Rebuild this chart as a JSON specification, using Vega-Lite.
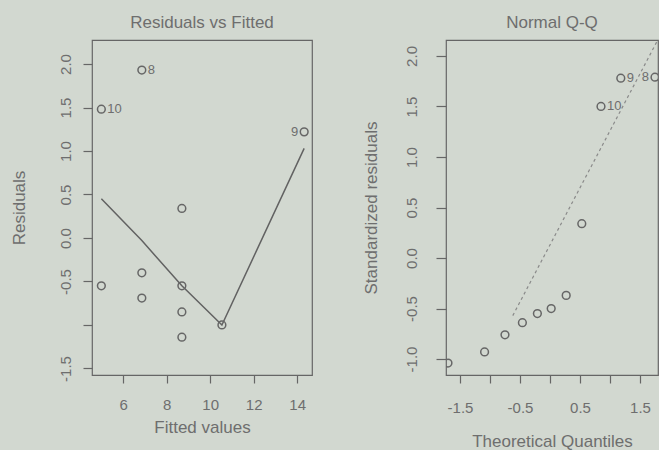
{
  "$schema": "https://vega.github.io/schema/vega-lite/v6.json",
  "background": "#d2d8d0",
  "padding": {"left": 9, "top": 13, "right": 0, "bottom": 0},
  "datasets": {
    "resid": [
      {"fitted": 5.0, "residual": -0.55, "id": ""},
      {"fitted": 5.0, "residual": 1.48, "id": "10"},
      {"fitted": 6.86, "residual": 1.93, "id": "8"},
      {"fitted": 6.86, "residual": -0.40, "id": ""},
      {"fitted": 6.86, "residual": -0.69, "id": ""},
      {"fitted": 8.7, "residual": 0.34, "id": ""},
      {"fitted": 8.7, "residual": -0.55, "id": ""},
      {"fitted": 8.7, "residual": -0.85, "id": ""},
      {"fitted": 8.7, "residual": -1.14, "id": ""},
      {"fitted": 10.54, "residual": -1.0, "id": ""},
      {"fitted": 14.32, "residual": 1.22, "id": "9"}
    ],
    "smooth": [
      {"fitted": 5.0, "value": 0.45},
      {"fitted": 6.86, "value": -0.03},
      {"fitted": 8.7, "value": -0.55},
      {"fitted": 10.54, "value": -1.0},
      {"fitted": 14.32, "value": 1.03}
    ],
    "qq": [
      {"theoretical": -1.70, "std": -1.04, "id": ""},
      {"theoretical": -1.09, "std": -0.93, "id": ""},
      {"theoretical": -0.75, "std": -0.76, "id": ""},
      {"theoretical": -0.46, "std": -0.64, "id": ""},
      {"theoretical": -0.21, "std": -0.55, "id": ""},
      {"theoretical": 0.02, "std": -0.50, "id": ""},
      {"theoretical": 0.27, "std": -0.37, "id": ""},
      {"theoretical": 0.53, "std": 0.34, "id": ""},
      {"theoretical": 0.85, "std": 1.50, "id": "10"},
      {"theoretical": 1.18, "std": 1.78, "id": "9"},
      {"theoretical": 1.75, "std": 1.79, "id": "8"}
    ],
    "qqline": [
      {"theoretical": -0.62, "std": -0.57},
      {"theoretical": 1.78, "std": 2.14}
    ]
  },
  "config": {
    "font": "Liberation Sans",
    "view": {"stroke": "#666666", "strokeWidth": 1.2},
    "axis": {
      "domain": false,
      "grid": false,
      "tickColor": "#666666",
      "tickWidth": 1.2,
      "labelColor": "#6e6e6e",
      "titleColor": "#6e6e6e",
      "labelFont": "Liberation Sans",
      "titleFont": "Liberation Sans",
      "labelFontSize": 15,
      "titleFontSize": 17,
      "titleFontWeight": "normal"
    },
    "title": {"font": "Liberation Sans", "fontSize": 17, "fontWeight": "normal", "color": "#6e6e6e", "offset": 8}
  },
  "bounds": "flush",
  "spacing": 134,
  "hconcat": [
    {
      "width": 220,
      "height": 335,
      "title": "Residuals vs Fitted",
      "layer": [
        {
          "data": {"name": "smooth"},
          "mark": {"type": "line", "color": "#626262", "strokeWidth": 1.5},
          "encoding": {
            "x": {"field": "fitted", "type": "quantitative"},
            "y": {"field": "value", "type": "quantitative"}
          }
        },
        {
          "data": {"name": "resid"},
          "mark": {"type": "point", "shape": "circle", "filled": false, "color": "#666666", "strokeWidth": 1.5, "size": 60, "opacity": 1},
          "encoding": {
            "x": {"field": "fitted", "type": "quantitative"},
            "y": {"field": "residual", "type": "quantitative"}
          }
        },
        {
          "data": {"name": "resid"},
          "transform": [{"filter": "datum.id != '' && datum.fitted < 10"}],
          "mark": {"type": "text", "fontSize": 13, "color": "#6e6e6e", "baseline": "middle", "align": "left", "dx": 6},
          "encoding": {
            "x": {"field": "fitted", "type": "quantitative"},
            "y": {"field": "residual", "type": "quantitative"},
            "text": {"field": "id"}
          }
        },
        {
          "data": {"name": "resid"},
          "transform": [{"filter": "datum.id != '' && datum.fitted > 10"}],
          "mark": {"type": "text", "fontSize": 13, "color": "#6e6e6e", "baseline": "middle", "align": "right", "dx": -6},
          "encoding": {
            "x": {"field": "fitted", "type": "quantitative"},
            "y": {"field": "residual", "type": "quantitative"},
            "text": {"field": "id"}
          }
        }
      ],
      "encoding": {
        "x": {
          "field": "fitted", "type": "quantitative",
          "scale": {"domain": [4.57, 14.68], "nice": false, "zero": false},
          "axis": {"title": "Fitted values", "values": [6, 8, 10, 12, 14], "tickSize": 8, "labelPadding": 14, "titlePadding": 7, "format": "d"}
        },
        "y": {
          "field": "residual", "type": "quantitative",
          "scale": {"domain": [-1.575, 2.276], "nice": false, "zero": false},
          "axis": {"title": "Residuals", "values": [-1.5, -1, -0.5, 0, 0.5, 1, 1.5, 2], "labelExpr": "datum.value == -1 ? '' : replace(format(datum.value, '.1f'), '\u2212', '-')", "labelAngle": 270, "labelAlign": "center", "labelBaseline": "middle", "tickSize": 9, "labelPadding": 18, "titlePadding": 30}
        }
      }
    },
    {
      "width": 212,
      "height": 335,
      "title": "Normal Q-Q",
      "layer": [
        {
          "data": {"name": "qqline"},
          "mark": {"type": "line", "color": "#8a8a8a", "strokeWidth": 1.2, "strokeDash": [3, 3], "clip": true},
          "encoding": {
            "x": {"field": "theoretical", "type": "quantitative"},
            "y": {"field": "std", "type": "quantitative"}
          }
        },
        {
          "data": {"name": "qq"},
          "mark": {"type": "point", "shape": "circle", "filled": false, "color": "#666666", "strokeWidth": 1.5, "size": 60, "opacity": 1, "clip": true},
          "encoding": {
            "x": {"field": "theoretical", "type": "quantitative"},
            "y": {"field": "std", "type": "quantitative"}
          }
        },
        {
          "data": {"name": "qq"},
          "transform": [{"filter": "datum.id != '' && datum.theoretical < 1.5"}],
          "mark": {"type": "text", "fontSize": 13, "color": "#6e6e6e", "baseline": "middle", "align": "left", "dx": 6},
          "encoding": {
            "x": {"field": "theoretical", "type": "quantitative"},
            "y": {"field": "std", "type": "quantitative"},
            "text": {"field": "id"}
          }
        },
        {
          "data": {"name": "qq"},
          "transform": [{"filter": "datum.id != '' && datum.theoretical > 1.5"}],
          "mark": {"type": "text", "fontSize": 13, "color": "#6e6e6e", "baseline": "middle", "align": "right", "dx": -6},
          "encoding": {
            "x": {"field": "theoretical", "type": "quantitative"},
            "y": {"field": "std", "type": "quantitative"},
            "text": {"field": "id"}
          }
        }
      ],
      "encoding": {
        "x": {
          "field": "theoretical", "type": "quantitative",
          "scale": {"domain": [-1.733, 1.8], "nice": false, "zero": false},
          "axis": {"title": "Theoretical Quantiles", "values": [-1.5, -1, -0.5, 0, 0.5, 1, 1.5], "labelExpr": "(datum.value == -1 || datum.value == 0 || datum.value == 1) ? '' : replace(format(datum.value, '.1f'), '\u2212', '-')", "tickSize": 8, "labelPadding": 17, "titlePadding": 18}
        },
        "y": {
          "field": "std", "type": "quantitative",
          "scale": {"domain": [-1.158, 2.158], "nice": false, "zero": false},
          "axis": {"title": "Standardized residuals", "values": [-1, -0.5, 0, 0.5, 1, 1.5, 2], "labelExpr": "replace(format(datum.value, '.1f'), '\u2212', '-')", "labelAngle": 270, "labelAlign": "center", "labelBaseline": "middle", "tickSize": 10, "labelPadding": 25, "titlePadding": 24}
        }
      }
    }
  ]
}
